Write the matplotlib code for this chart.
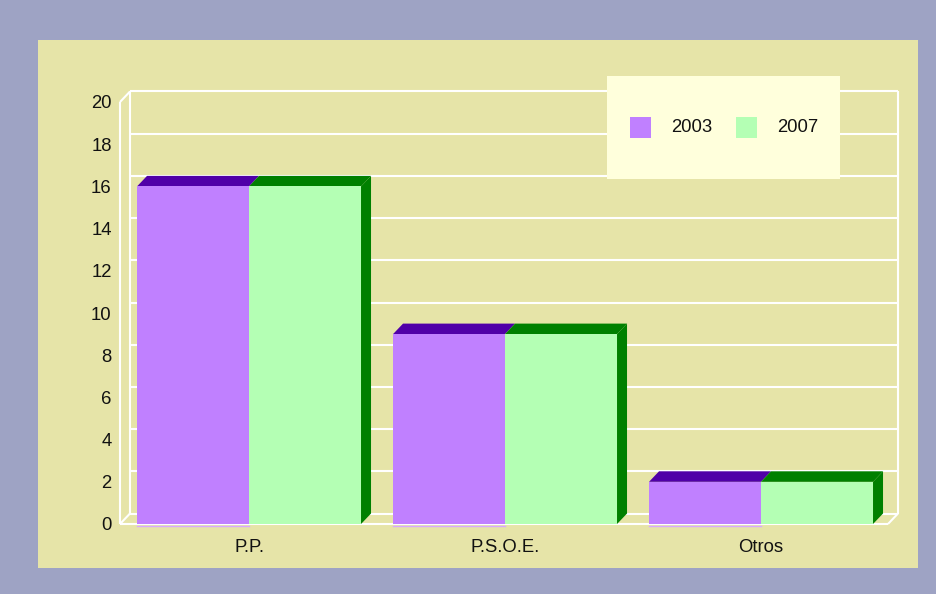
import matplotlib as mpl
import matplotlib.pyplot as plt
from matplotlib.patches import Rectangle, Polygon

import numpy as np

categories = ["P.P.", "P.S.O.E.", "Otros"]
years = ["2003", "2007"]
seats_2003 = [16, 9, 2]
seats_2007 = [16, 9, 2]
yticks = [0, 2, 4, 6, 8, 10, 12, 14, 16, 18, 20]

W, H = 936, 594
front_col = ["#C080FF", "#B4FFB4"]
dark_col = ["#5000A8", "#008000"]

mpl.rcParams['font.family'] = ['Liberation Sans', 'DejaVu Sans']

fig = plt.figure(figsize=(W / 100, H / 100), dpi=100)
fig.patch.set_facecolor("#9EA3C4")


def fbox(x0, y0, x1, y1):
    # pixel box (top-left origin) -> figure coords
    return x0 / W, 1 - y1 / H, (x1 - x0) / W, (y1 - y0) / H


# inner panel
l, b, w, h = fbox(38, 40, 918, 568)
fig.patches.append(Rectangle((l, b), w, h, transform=fig.transFigure,
                             facecolor="#E6E4A8", edgecolor="none", zorder=-5))

l, b, w, h = fbox(120, 102, 888, 524)
ax = fig.add_axes([l, b, w, h])
ax.set_facecolor("none")
for s in ax.spines.values():
    s.set_visible(False)

x0, x1 = -0.504, 2.496
ymax = 20
ax.set_xlim(x0, x1)
ax.set_ylim(0, ymax)

dx = 10 / 256
dy = 10.5 / 21.1
bw = 0.4375

lw = 1.5
white = dict(color="white", lw=lw, clip_on=False, zorder=1, solid_capstyle="butt")
# back wall grid
for v in yticks:
    ax.plot([x0 + dx, x1 + dx], [v + dy, v + dy], **white)
# left wall + floor + right edge
ax.plot([x0, x0], [0, ymax], **white)
ax.plot([x0 + dx, x0 + dx], [dy, ymax + dy], **white)
ax.plot([x0, x0 + dx], [ymax, ymax + dy], **white)
ax.plot([x0, x0 + dx], [0, dy], **white)
ax.plot([x0, x1], [0, 0], **white)
ax.plot([x1, x1 + dx], [0, dy], **white)
ax.plot([x1 + dx, x1 + dx], [dy, ymax + dy], **white)

xs = np.arange(len(categories))
series = [seats_2003, seats_2007]
for i, c in enumerate(xs):
    for j, vals in enumerate(series):
        v = vals[i]
        left = c - bw + j * bw
        right = left + bw
        ax.bar(left, v, width=bw, align="edge", color=front_col[j],
               edgecolor="none", zorder=3)
        top = Polygon([(left, v), (right, v), (right + dx, v + dy), (left + dx, v + dy)],
                      closed=True, facecolor=dark_col[j], edgecolor="none",
                      zorder=2, clip_on=False)
        ax.add_patch(top)
    # side face of the rear bar
    right = c + bw
    v = seats_2007[i]
    side = Polygon([(right, 0), (right, v), (right + dx, v + dy), (right + dx, dy)],
                   closed=True, facecolor=dark_col[1], edgecolor="none",
                   zorder=2, clip_on=False)
    ax.add_patch(side)
    # thin shadow line under the front bar
    ax.plot([c - bw, c], [-0.1, -0.1], color="#D8A8FF", lw=1, clip_on=False, zorder=1)

ax.set_yticks(yticks)
ax.set_xticks(xs)
ax.set_xticklabels(categories)
ax.tick_params(axis="both", length=0, labelsize=13.3, labelcolor="#111111")
ax.tick_params(axis="y", pad=6)
ax.tick_params(axis="x", pad=11)
for t in ax.get_yticklabels():
    t.set_y(t.get_position()[1])

# legend box
l, b, w, h = fbox(607, 76, 840, 179)
fig.patches.append(Rectangle((l, b), w, h, transform=fig.transFigure,
                             facecolor="#FFFFDC", edgecolor="none", zorder=5))
for k, (sx, tx) in enumerate([(630, 671), (736, 777)]):
    l, b, w, h = fbox(sx, 117, sx + 21, 138)
    fig.patches.append(Rectangle((l, b), w, h, transform=fig.transFigure,
                                 facecolor=front_col[k], edgecolor="none", zorder=6))
    fig.text(tx / W, 1 - 127.5 / H, years[k], fontsize=13.3, color="#111111",
             ha="left", va="center", zorder=7)

fig.savefig("out.png", dpi=100, facecolor=fig.get_facecolor())
